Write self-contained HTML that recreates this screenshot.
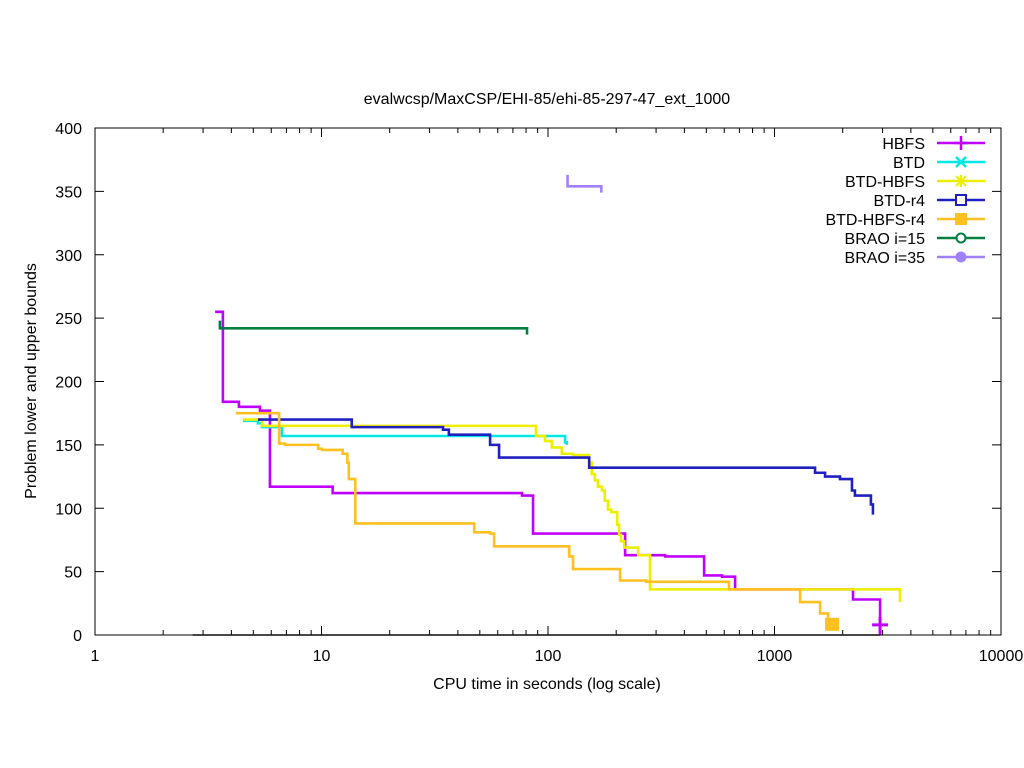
<!DOCTYPE html>
<html><head><meta charset="utf-8"><style>
body{margin:0;background:#fff;}
svg{display:block;font-family:"Liberation Sans",sans-serif;font-size:16px;}
</style></head><body>
<svg id="chart" width="1024" height="768">
<text x="547" y="104" text-anchor="middle">evalwcsp/MaxCSP/EHI-85/ehi-85-297-47_ext_1000</text>
<text x="547" y="689" text-anchor="middle">CPU time in seconds (log scale)</text>
<text transform="translate(36,381) rotate(-90)" text-anchor="middle">Problem lower and upper bounds</text>
<g id="axes"></g><g id="series"></g><g id="legend"></g>
<rect x="95" y="128" width="906" height="507" fill="none" stroke="#000" stroke-width="1"/>
</svg>
<script>
const xTicks=[1,10,100,1000,10000];
const yTicks=[0,50,100,150,200,250,300,350,400];
const names=["HBFS","BTD","BTD-HBFS","BTD-r4","BTD-HBFS-r4","BRAO i=15","BRAO i=35"];
const colors=["#c000ff","#00e8e8","#eeee00","#2020c0","#ffc020","#008040","#a080ff"];
const hbfsT=[3.39,3.67,4.32,5.35,5.92,11.2,76.8,85.9,219,329,489,587,670,2221,2925,2925];
const hbfsV=[255,184,180,177,117,112,110,80,63,62,47,46,36,28,26,0];
const btdT=[4.5,5.24,5.46,6.69,119,121];
const btdV=[169,167,164,157,152,150];
const bhT=[4.5,5.46,88.5,97,104,115,129,152,156,161,166,173,178,184,190,202,206,210,217,250,282,3580];
const bhV=[170,165,157,153,148,143,142,136,127,122,117,114,106,99,97,87,79,74,69,63,36,26];
const r4T=[5.24,13.6,34.4,36.5,55.5,60.8,152,1510,1672,1946,2198,2265,2665,2720];
const r4V=[170,164,162,158,150,140,132,128,125,123,114,110,103,95];
const bhr4T=[4.19,6.5,6.9,9.66,10.05,12.4,13.0,13.2,14.1,47.2,55.5,57.8,124,129,208,271,630,1297,1589,1722];
const bhr4V=[175,151,150,147,146,143,136,123,88,81,80,70,62,52,43,42,36,26,17,4];
const b15T=[3.56,3.56,80.8];
const b15V=[248,242,237];
const b35T=[122,122,172];
const b35V=[363,354,349];
const lowT=[2.7,2925];
const lowV=[0,0];
const seriesT=[hbfsT,btdT,bhT,r4T,bhr4T,b15T,b35T];
const seriesV=[hbfsV,btdV,bhV,r4V,bhr4V,b15V,b35V];
const X=t=>95+226.5*Math.log10(t);
const Y=v=>635-v*1.2675;
const NS="http://www.w3.org/2000/svg";
function mk(tag,at,parent){const e=document.createElementNS(NS,tag);for(const k in at)e.setAttribute(k,at[k]);parent.appendChild(e);return e;}
const axes=document.getElementById('axes');
yTicks.forEach(v=>{
  const y=Y(v);
  const a=mk('line',{x1:95,x2:104,y1:y,y2:y,stroke:'#000'},axes);
  
  
  mk('line',{x1:992,x2:1001,y1:y,y2:y,stroke:'#000'},axes);
  const t=mk('text',{x:82,y:y+6,'text-anchor':'end'},axes);t.textContent=v;
  
  
});
xTicks.forEach((v,i)=>{
  const x=X(v);
  mk('line',{x1:x,x2:x,y1:635,y2:626,stroke:'#000'},axes);
  mk('line',{x1:x,x2:x,y1:128,y2:137,stroke:'#000'},axes);
  const t=mk('text',{x:x,y:661,'text-anchor':'middle'},axes);t.textContent=v;
  
  
  if(i<xTicks.length-1){for(let m=2;m<10;m++){const xm=X(v*m);
    mk('line',{x1:xm,x2:xm,y1:635,y2:630,stroke:'#000'},axes);
    mk('line',{x1:xm,x2:xm,y1:128,y2:133,stroke:'#000'},axes);}}
});
const sg=document.getElementById('series');
function stepPath(T,V){let d=`M${X(T[0])},${Y(V[0])}`;for(let i=1;i<T.length;i++)d+=` H${X(T[i])} V${Y(V[i])}`;return d;}
const low=mk('path',{d:stepPath(lowT,lowV),stroke:'#222',fill:'none','stroke-width':1.5},sg);


seriesT.forEach((T,i)=>{
  const p=mk('path',{d:stepPath(T,seriesV[i]),stroke:colors[i],fill:'none','stroke-width':2.6},sg);
  
  
});
const hx=X(2925),hy=Y(8);
const hm=mk('path',{d:`M${hx-8},${hy} H${hx+8} M${hx},${hy-8} V${hy+8}`,stroke:colors[0],'stroke-width':3},sg);


const ox=X(1795),oy=Y(8);
const om=mk('rect',{x:ox-7,y:oy-7,width:14,height:13,fill:colors[4]},sg);


const lg=document.getElementById('legend');
names.forEach((n,i)=>{
  const y=143+19*i;
  const g=mk('g',{},lg);
  
  
  const t=mk('text',{x:925,y:y+6,'text-anchor':'end'},g);t.textContent=n;
  mk('line',{x1:937,x2:985,y1:y,y2:y,stroke:colors[i],'stroke-width':2.6},g);
  const c=colors[i],cx=961;
  if(i==0)mk('path',{d:`M${cx-7},${y} H${cx+7} M${cx},${y-7} V${y+7}`,stroke:c,'stroke-width':2.5},g);
  else if(i==1)mk('path',{d:`M${cx-5},${y-5} L${cx+5},${y+5} M${cx-5},${y+5} L${cx+5},${y-5}`,stroke:c,'stroke-width':2.5},g);
  else if(i==2)mk('path',{d:`M${cx-6},${y} H${cx+6} M${cx},${y-6} V${y+6} M${cx-5},${y-5} L${cx+5},${y+5} M${cx-5},${y+5} L${cx+5},${y-5}`,stroke:c,'stroke-width':2},g);
  else if(i==3)mk('rect',{x:cx-5,y:y-5,width:10,height:10,fill:'#fff',stroke:c,'stroke-width':2},g);
  else if(i==4)mk('rect',{x:cx-6,y:y-6,width:12,height:12,fill:c},g);
  else if(i==5)mk('circle',{cx:cx,cy:y,r:4.5,fill:'#fff',stroke:c,'stroke-width':2},g);
  else mk('circle',{cx:cx,cy:y,r:5.5,fill:c},g);
});
</script>
</body></html>
